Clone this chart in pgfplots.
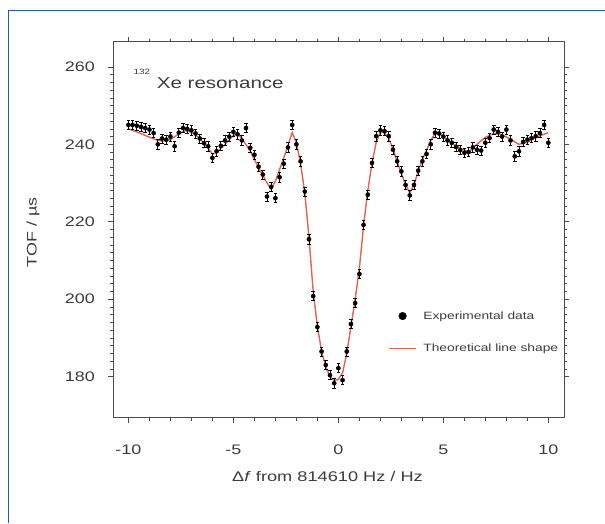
\documentclass[border=0pt]{standalone}
\usepackage{pgfplots}
\usepackage{pgfplotstable}
\pgfplotsset{compat=1.18}
\usepackage{fontspec}
\setmainfont{Liberation Sans}[FakeStretch=1.3]
\definecolor{framebl}{RGB}{30,92,168}
\definecolor{theo}{RGB}{226,98,84}
\definecolor{txt}{RGB}{60,60,60}

\pgfplotstableread{
x y
-10.0 245.0
-9.8 245.0
-9.6 244.8
-9.4 244.5
-9.2 244.2
-9.0 243.8
-8.8 242.9
-8.6 240.0
-8.4 241.5
-8.2 241.2
-8.0 242.0
-7.8 239.5
-7.6 243.0
-7.4 244.2
-7.2 244.0
-7.0 243.6
-6.8 242.8
-6.6 241.5
-6.4 240.3
-6.2 239.5
-6.0 236.5
-5.8 238.2
-5.6 239.6
-5.4 241.0
-5.2 242.0
-5.0 243.2
-4.8 242.6
-4.6 241.0
-4.4 244.2
-4.2 239.1
-4.0 237.3
-3.8 234.2
-3.6 232.2
-3.4 226.5
-3.2 229.0
-3.0 226.1
-2.8 231.5
-2.6 235.0
-2.4 239.2
-2.2 245.0
-2.0 240.0
-1.8 235.6
-1.6 227.8
-1.4 215.5
-1.2 200.8
-1.0 192.8
-0.8 186.5
-0.6 183.0
-0.4 180.4
-0.2 178.3
0.0 182.2
0.2 179.1
0.4 186.5
0.6 193.6
0.8 199.0
1.0 206.5
1.2 219.2
1.4 227.0
1.6 235.2
1.8 242.1
2.0 243.6
2.2 243.4
2.4 242.1
2.6 238.6
2.8 235.6
3.0 233.0
3.2 229.5
3.4 226.8
3.6 229.5
3.8 233.2
4.0 235.6
4.2 237.5
4.4 240.0
4.6 243.0
4.8 242.8
5.0 242.0
5.2 241.0
5.4 240.4
5.6 239.3
5.8 238.5
6.0 237.8
6.2 238.0
6.4 239.2
6.6 238.6
6.8 238.4
7.0 240.4
7.2 241.6
7.4 243.8
7.6 243.2
7.8 242.0
8.0 243.8
8.2 241.0
8.4 236.9
8.6 238.2
8.8 240.6
9.0 241.2
9.2 241.6
9.4 242.1
9.6 242.9
9.8 245.0
10.0 240.4
}\expdata

\pgfplotstableread{
x y
-10.0 244.0
-9.6 243.2
-9.2 242.3
-8.8 241.4
-8.4 240.8
-8.0 241.2
-7.6 242.7
-7.3 243.5
-7.0 243.2
-6.6 241.5
-6.2 239.0
-6.0 237.5
-5.8 237.8
-5.4 240.0
-5.0 242.3
-4.8 242.6
-4.6 241.6
-4.2 238.2
-3.8 234.0
-3.4 230.0
-3.2 228.5
-3.0 230.5
-2.6 236.5
-2.2 243.0
-2.0 240.5
-1.8 235.0
-1.6 227.5
-1.4 216.0
-1.2 202.0
-1.0 193.0
-0.8 186.5
-0.6 182.5
-0.4 180.0
-0.2 179.0
0.0 179.3
0.2 181.0
0.4 186.0
0.6 193.0
0.8 200.0
1.0 208.0
1.2 219.0
1.4 228.0
1.6 235.0
1.8 240.5
2.0 243.3
2.2 243.0
2.4 241.5
2.6 238.8
2.8 235.5
3.0 232.5
3.2 229.5
3.4 227.5
3.6 229.5
3.8 233.0
4.0 236.0
4.2 238.5
4.4 241.0
4.6 242.8
4.8 242.8
5.0 242.0
5.4 240.4
5.8 239.0
6.2 238.0
6.6 240.0
7.0 241.8
7.4 242.8
7.8 242.5
8.2 241.3
8.6 240.0
9.0 240.5
9.4 241.8
10.0 243.0
}\theodata

\begin{document}
\begin{tikzpicture}[x=1pt,y=1pt]
\useasboundingbox (0,0) rectangle (605,523);
\draw[framebl, line width=1.6pt] (8.3,0) -- (8.3,512.5) -- (610,512.5);
\begin{axis}[
  at={(113.3pt,105.3pt)}, anchor=south west,
  scale only axis, width=451pt, height=376pt,
  xmin=-10.72, xmax=10.76, ymin=169.4, ymax=266.5,
  xtick={-10,-5,0,5,10}, minor x tick num=4,
  ytick={180,200,220,240,260}, minor y tick num=9,
  tick align=outside, major tick length=5pt, minor tick length=3pt,
  every tick/.style={black!70, line width=0.6pt},
  axis line style={black!70, line width=0.8pt},
  ticklabel style={font=\fontsize{13.8}{16}\selectfont, text=txt},
  /pgf/number format/assume math mode=true,
  xticklabel shift=19pt, yticklabel shift=10pt,
  legend style={draw=none, fill=none, inner sep=0pt, at={(axis cs:2.38,191.5)}, anchor=west,
    row sep=23pt, column sep=6.7pt, nodes={inner sep=0pt, anchor=west},
    font=\fontsize{10.6}{12}\selectfont, text=txt},
  legend cell align=left,
]
\addlegendimage{legend image code/.code={\fill[black] (13.5pt,0pt) circle (3.8pt);}}
\addlegendentry{Experimental data}
\addlegendimage{legend image code/.code={\draw[theo, line width=1.1pt] (0pt,0pt) -- (27pt,0pt);}}
\addlegendentry{Theoretical line shape}
\addplot[forget plot, theo, line width=1.4pt] table[x=x,y=y] {\theodata};
\addplot[forget plot, only marks, mark=*, mark size=2.1pt, black,
  error bars/.cd, y dir=both, y fixed=1.2,
  error bar style={black, line width=0.7pt},
  error mark options={rotate=90, mark size=1.8pt, black, line width=0.6pt}]
  table[x=x,y=y] {\expdata};
\end{axis}
\node[anchor=west, text=txt, font=\fontsize{7.7}{9}\selectfont, inner sep=0pt] at (133.3,451.3) {132};
\node[anchor=west, text=txt, font=\fontsize{15.8}{18}\selectfont, inner sep=0pt] at (156.7,439.7) {Xe resonance};
\node[text=txt, font=\fontsize{14}{16}\selectfont, inner sep=0pt] at (327.5,46.3) {Δ\textit{f} from 814610 Hz / Hz};
\node[text=txt, font=\fontsize{13.8}{16}\selectfont, inner sep=0pt, rotate=90] at (33,290.5) {TOF / µs};
\end{tikzpicture}
\end{document}
